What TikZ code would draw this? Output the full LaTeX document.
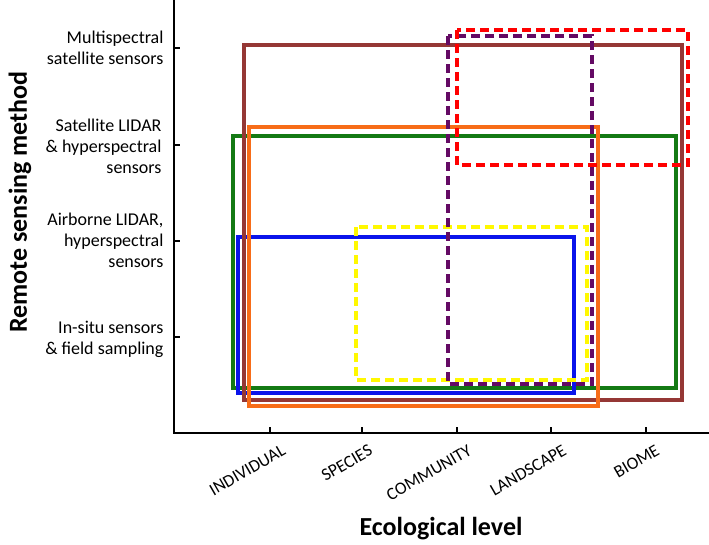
\documentclass[tikz,border=0pt]{standalone}
\usepackage{fontspec}
\setmainfont{Carlito}
\begin{document}
\begin{tikzpicture}[x=1pt,y=1pt,
  box/.style={line width=3.2pt},
  dbox/.style={line width=3.2pt,dash pattern=on 9pt off 5pt},
  axis/.style={line width=1.8pt},
  ylab/.style={anchor=east,align=right,font=\fontsize{18}{21}\selectfont},
  xlab/.style={anchor=east,rotate=30,font=\fontsize{17.5}{21}\selectfont,inner sep=0pt},
  title/.style={font=\fontsize{26}{30}\selectfont\bfseries}]
\definecolor{cbrown}{RGB}{149,55,53}
\definecolor{corange}{RGB}{247,108,24}
\definecolor{cgreen}{RGB}{20,122,20}
\definecolor{cblue}{RGB}{10,20,235}
\definecolor{cpurple}{RGB}{100,10,100}
\definecolor{cred}{RGB}{255,0,0}
\definecolor{cyellow}{RGB}{255,248,0}
\useasboundingbox (0,0) rectangle (709,-544);
% axes
\coordinate (top) at (174,0);
\coordinate (orig) at (174,-433);
\coordinate (right) at (709,-433);
\draw[axis] (top) -- (orig) -- (right);
% y ticks and labels
\foreach \y in {48,145,241,337}{
  \draw[axis] (174,-\y) -- (180,-\y);
}
\node[ylab] (l1) at (167,-48) {Multispectral\\satellite sensors};
\node[ylab] (l2) at (165,-146) {Satellite LIDAR\\\& hyperspectral\\sensors};
\node[ylab] (l3) at (167,-240) {Airborne LIDAR,\\hyperspectral\\sensors};
\node[ylab] (l4) at (167,-339) {In-situ sensors\\\& field sampling};
% x ticks and labels
\foreach \x in {270,362,457,551,646}{
  \draw[axis] (\x,-433) -- (\x,-427);
}
\node[xlab] (x1) at (284,-449) {INDIVIDUAL};
\node[xlab] (x2) at (371,-449) {SPECIES};
\node[xlab] (x3) at (470,-449) {COMMUNITY};
\node[xlab] (x4) at (565,-449) {LANDSCAPE};
\node[xlab] (x5) at (658,-449) {BIOME};
% titles
\node[title,rotate=90] (yt) at (20,-202) {Remote sensing method};
\node[title] (xt) at (441,-529) {Ecological level};
% rectangles
\draw[box,cgreen] (233,-136) rectangle (676,-388);
\draw[box,cblue] (238,-237) rectangle (574,-393);
\draw[box,cbrown] (244,-45) rectangle (682,-400);
\draw[box,corange] (249,-127) rectangle (598,-406);
\draw[dbox,cyellow] (356,-227) rectangle (587,-380);
\draw[dbox,cpurple] (448,-36) rectangle (592,-384);
\draw[dbox,cred] (457,-30) rectangle (688,-165);
\end{tikzpicture}
\end{document}
